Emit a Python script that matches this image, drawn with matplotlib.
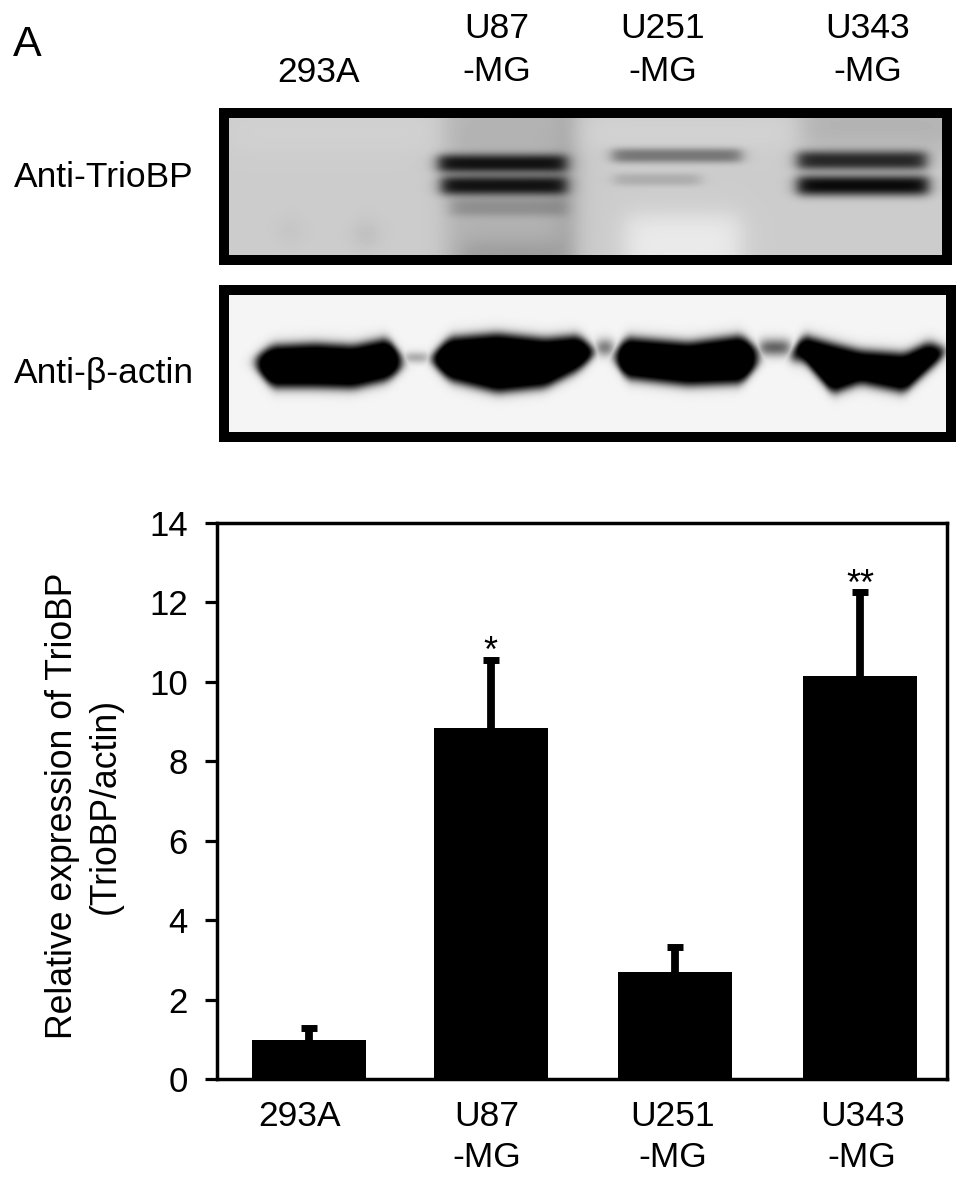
import numpy as np
import matplotlib
matplotlib.use('Agg')
import matplotlib.pyplot as plt

plt.rcParams['font.family'] = ['Liberation Sans', 'DejaVu Sans']

W, H = 969, 1183

# bar chart data
cell_lines = ['293A', 'U87\n-MG', 'U251\n-MG', 'U343\n-MG']
bar_pos = [0, 0.99, 1.99, 3]
label_pos = [-0.05, 0.97, 1.98, 3.01]
expression = [0.98, 8.84, 2.69, 10.15]
errors = [0.30, 1.72, 0.63, 2.11]
stars = ['', '*', '', '**']
y_ticks = [0, 2, 4, 6, 8, 10, 12, 14]

# TrioBP bands: left, right, centre y, half height, darkness (reference pixels)
trio_bands = [
    (438, 566, 163, 9.5, 0.90),
    (441, 566, 185, 10.0, 0.90),
    (450, 566, 207, 9.0, 0.20),
    (612, 741, 155, 7.5, 0.42),
    (614, 700, 179, 6.5, 0.15),
    (797, 926, 160, 10.0, 0.80),
    (797, 928, 185, 10.5, 0.95),
]
# faint patches on the TrioBP membrane: left, right, top, bottom, darkness
trio_patches = [
    (445, 572, 100, 275, 0.10),
    (562, 572, 100, 275, 0.12),
    (800, 960, 100, 150, 0.10),
    (625, 740, 215, 275, -0.12),
    (560, 800, 120, 145, -0.03),
    (229, 440, 115, 150, -0.02),
    (285, 295, 225, 235, 0.12),
    (360, 372, 228, 240, 0.18),
    (460, 560, 245, 275, 0.12),
]

# actin lanes, outlines in reference pixels: (x, top, bottom)
actin_lanes = [
    [(253, 357, 367), (272, 345, 387), (315, 343, 387), (353, 345, 388), (387, 338, 380), (404, 357, 367)],
    [(428, 357, 360), (449, 337, 380), (497, 333, 392), (545, 338, 387), (578, 335, 370), (597, 350, 353)],
    [(612, 353, 360), (626, 337, 378), (688, 342, 385), (741, 335, 383), (760, 350, 363)],
    [(789, 353, 360), (803, 335, 360), (832, 343, 393), (860, 350, 383), (904, 353, 392), (928, 342, 370), (947, 348, 353)],
]
# faint joins between actin lanes: left, right, centre y, half height, darkness
actin_joins = [
    (404, 428, 357, 6, 0.30),
    (597, 612, 347, 9, 0.55),
    (760, 789, 347, 9, 0.60),
]


def soft(d, s):
    return 1 / (1 + np.exp(-d / s))


def smooth(values, n=13):
    pad = np.pad(values, n, mode='edge')
    return np.convolve(pad, np.ones(n) / n, mode='same')[n:-n]


def trio_image(x, y):
    img = np.full(x.shape, 0.80)
    for x0, x1, top, bot, dark in trio_patches:
        img -= dark * soft(x - x0, 7) * soft(x1 - x, 7) * soft(y - top, 7) * soft(bot - y, 7)
    for x0, x1, yc, hh, dark in trio_bands:
        mask = soft(x - x0, 4) * soft(x1 - x, 4) * np.exp(-np.abs((y - yc) / hh) ** 2.6)
        img *= 1 - dark * mask
    return img


def actin_image(x, y):
    alpha = np.zeros(x.shape)
    for x0, x1, yc, hh, dark in actin_joins:
        alpha += dark * soft(x - x0, 3) * soft(x1 - x, 3) * np.exp(-((y - yc) / hh) ** 2)
    xs = x[0]
    for lane in actin_lanes:
        lane_x = [p[0] for p in lane]
        top = smooth(np.interp(xs, lane_x, [p[1] for p in lane]))
        bot = smooth(np.interp(xs, lane_x, [p[2] for p in lane]))
        mask = soft(y - top[None, :], 3) * soft(bot[None, :] - y, 3)
        mask = mask * soft(x - lane_x[0] - 2, 3) * soft(lane_x[-1] - 2 - x, 3)
        mask = np.clip(mask * 1.2, 0, 1)
        alpha = np.maximum(alpha, mask)
    return 0.96 * (1 - np.clip(alpha, 0, 1))


def px_axes(fig, left, top, right, bottom):
    return fig.add_axes([left / W, 1 - bottom / H, (right - left) / W, (bottom - top) / H])


def draw_blot(fig, box, image_func):
    left, top, right, bottom = box
    ax = px_axes(fig, left, top, right, bottom)
    x, y = np.meshgrid(np.arange(left, right), np.arange(top, bottom))
    ax.imshow(image_func(x, y), cmap='gray', vmin=0, vmax=1, aspect='auto',
              interpolation='bilinear', extent=(left, right, bottom, top))
    ax.set_xticks([])
    ax.set_yticks([])
    for s in ax.spines.values():
        s.set_linewidth(7.2)
        s.set_color('black')


fig = plt.figure(figsize=(W / 100, H / 100), dpi=100)

draw_blot(fig, (224, 113, 947, 260), trio_image)
draw_blot(fig, (224, 290, 951, 437), actin_image)

# bar chart
ax = px_axes(fig, 217, 523, 947, 1079)
ax.bar(bar_pos, expression, width=0.62, color='black')
_, caps, _ = ax.errorbar(bar_pos, expression, yerr=[[0] * 4, errors], fmt='none', ecolor='black',
                         elinewidth=5.6, capsize=6, capthick=5)
caps[0].set_visible(False)
for p, v, e, s in zip(bar_pos, expression, errors, stars):
    if s:
        ax.annotate(s, (p, v + e), xytext=(0, -7.5), textcoords='offset points',
                    ha='center', va='bottom', fontsize=26)
ax.set_xlim(-0.4986, 3.471)
ax.set_ylim(0, 14)
ax.set_yticks(y_ticks)
ax.set_xticks(label_pos)
ax.set_xticklabels(cell_lines, linespacing=1.3)
ax.tick_params(axis='y', length=9, width=2.3, labelsize=25, pad=12)
ax.tick_params(axis='x', length=0, labelsize=25.5, pad=15)
for s in ax.spines.values():
    s.set_linewidth(2.5)

# text around the blots
def px_text(x, y, s, **kw):
    fig.text(x / W, 1 - y / H, s, **kw)


px_text(13, 45, 'A', fontsize=31, ha='left', va='center')
px_text(319, 73, '293A', fontsize=25.5, ha='center', va='center')
px_text(497, 50, 'U87\n-MG', fontsize=25.5, ha='center', va='center', linespacing=1.35)
px_text(663, 50, 'U251\n-MG', fontsize=25.5, ha='center', va='center', linespacing=1.35)
px_text(868, 50, 'U343\n-MG', fontsize=25.5, ha='center', va='center', linespacing=1.35)
px_text(14, 178, 'Anti-TrioBP', fontsize=25.5, ha='left', va='center')
px_text(14, 373, 'Anti-β-actin', fontsize=25.5, ha='left', va='center')
px_text(84, 806, 'Relative expression of TrioBP\n(TrioBP/actin)', fontsize=25.7, rotation=90,
        ha='center', va='center', multialignment='center', linespacing=1.3)

fig.savefig('out.png', dpi=100)
